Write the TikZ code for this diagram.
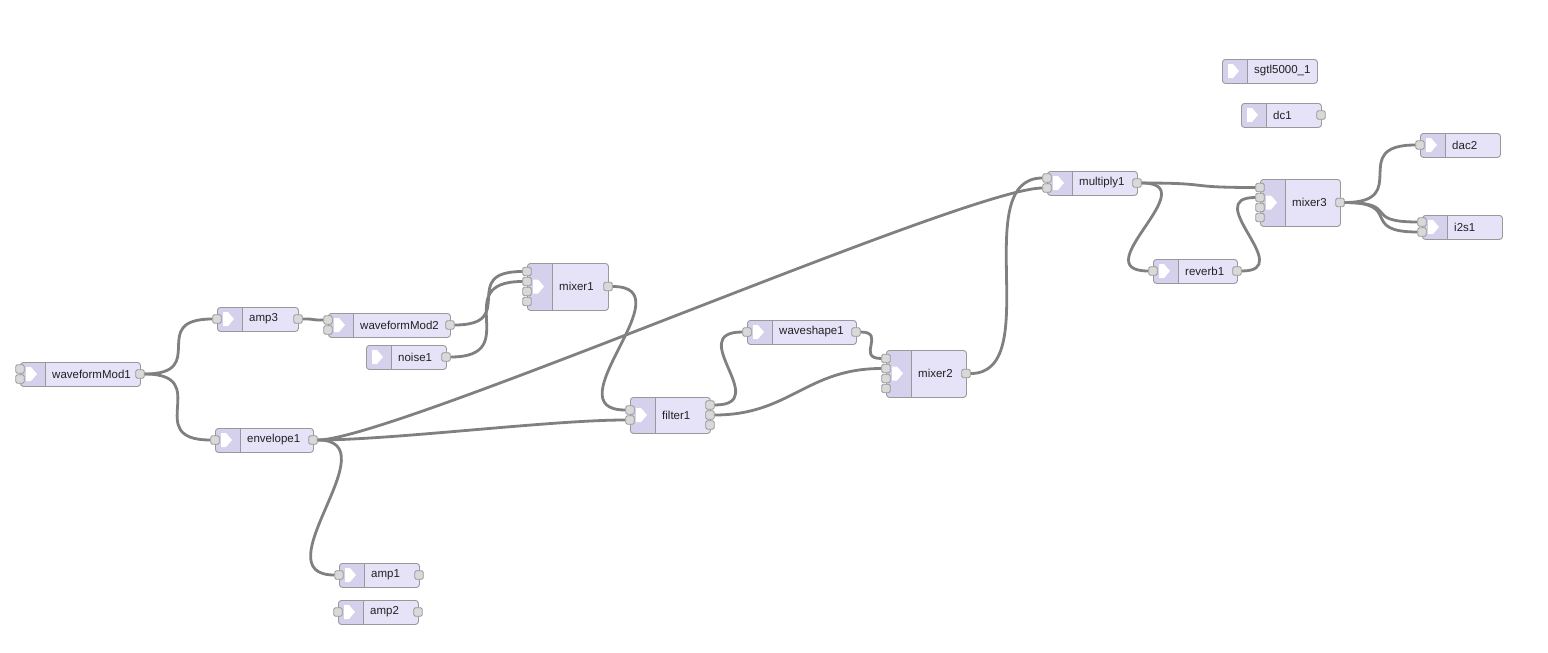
\documentclass[tikz,border=0pt]{standalone}
\usepackage{fontspec}
\setmainfont{Liberation Sans}
\usepackage{tikz}

\definecolor{boxfill}{HTML}{E6E2F8}
\definecolor{stripfill}{HTML}{D5D0EC}
\definecolor{edgegray}{HTML}{999999}
\definecolor{portgray}{HTML}{D9D9D9}
\definecolor{wiregray}{HTML}{808080}
\definecolor{labelgray}{HTML}{222222}

\tikzset{
  block/.style={draw=edgegray, fill=boxfill, rounded corners=3pt, line width=0.9pt,
    anchor=north west, inner sep=0pt,
    path picture={\fill[stripfill] (path picture bounding box.north west) rectangle
      ([xshift=25pt]path picture bounding box.south west);
      \draw[edgegray, line width=0.5pt] ([xshift=25pt]path picture bounding box.north west) --
      ([xshift=25pt]path picture bounding box.south west);}},
  port/.style={draw=edgegray, fill=portgray, rounded corners=1.5pt, line width=0.8pt,
    minimum size=8.5pt, inner sep=0pt},
  blocklabel/.style={anchor=west, inner sep=0pt, text=labelgray,
    font=\fontsize{11.5}{13}\selectfont},
  wire/.style={draw=wiregray, line width=2.8pt}
}

\begin{document}
\begin{tikzpicture}[x=1pt, y=-1pt]
    \useasboundingbox (0,0) rectangle (1548,653);

    % Bausteine: Name / x / y / Breite / Hoehe / Text / Eingaenge / Ausgaenge
    \foreach \n/\x/\y/\w/\h/\t/\ni/\no in {
        waveformMod1/20/362/120/24/waveformMod1/2/1,
        amp3/217/307/81/24/amp3/1/1,
        waveformMod2/328/313/122/24/waveformMod2/2/1,
        noise1/366/345/80/24/noise1/0/1,
        mixer1/527/263/81/47/mixer1/4/1,
        envelope1/215/428/98/24/envelope1/1/1,
        amp1/339/563/80/24/amp1/1/1,
        amp2/338/600/80/24/amp2/1/1,
        filter1/630/397/80/36/filter1/2/3,
        waveshape1/747/320/109/24/waveshape1/1/1,
        mixer2/886/350/80/47/mixer2/4/1,
        multiply1/1047/171/90/24/multiply1/2/1,
        reverb1/1153/259/84/24/reverb1/1/1,
        mixer3/1260/179/80/47/mixer3/4/1,
        sgtl/1222/59/95/24/sgtl5000\_1/0/0,
        dc1/1241/103/80/24/dc1/0/1,
        dac2/1420/133/80/24/dac2/1/0,
        i2s1/1422/215/80/24/i2s1/2/0
    } {
        \pgfmathsetmacro\cy{\y+\h/2}
        \node[block, minimum width=\w pt, minimum height=\h pt] (\n) at (\x,\y) {};
        % weisser Pfeil im linken Streifen
        \fill[white] (\x+6,\cy-7) -- (\x+11,\cy-7) -- (\x+17,\cy) -- (\x+11,\cy+7) -- (\x+6,\cy+7) -- cycle;
        \node[blocklabel] (\n-text) at (\x+32,\cy) {\t};

        % Anschluesse links und rechts
        \ifnum\ni>0
            \foreach \i in {1,...,\ni}
                \node[port] (\n-i\i) at (\x,{\cy+(\i-(\ni+1)/2)*10}) {};
        \fi
        \ifnum\no>0
            \foreach \i in {1,...,\no}
                \node[port] (\n-o\i) at (\x+\w,{\cy+(\i-(\no+1)/2)*10}) {};
        \fi
    }

    % Verbindungen: von / nach / Kurvenstaerke
    \foreach \a/\b/\c in {
        waveformMod1-o1/amp3-i1/66, waveformMod1-o1/envelope1-i1/70,
        amp3-o1/waveformMod2-i1/17, waveformMod2-o1/mixer1-i1/65,
        noise1-o1/mixer1-i2/75, mixer1-o1/filter1-i1/75,
        envelope1-o1/filter1-i2/75, envelope1-o1/multiply1-i2/75,
        envelope1-o1/amp1-i1/75, filter1-o1/waveshape1-i1/59,
        filter1-o2/mixer2-i2/75, waveshape1-o1/mixer2-i1/26,
        mixer2-o1/multiply1-i1/75, multiply1-o1/mixer3-i1/75,
        multiply1-o1/reverb1-i1/66, reverb1-o1/mixer3-i2/56,
        mixer3-o1/dac2-i1/69, mixer3-o1/i2s1-i1/57, mixer3-o1/i2s1-i2/59
    } {
        \draw[wire] (\a.east) .. controls +(\c,0) and +(-\c,0) .. (\b.west);
    }

\end{tikzpicture}
\end{document}
